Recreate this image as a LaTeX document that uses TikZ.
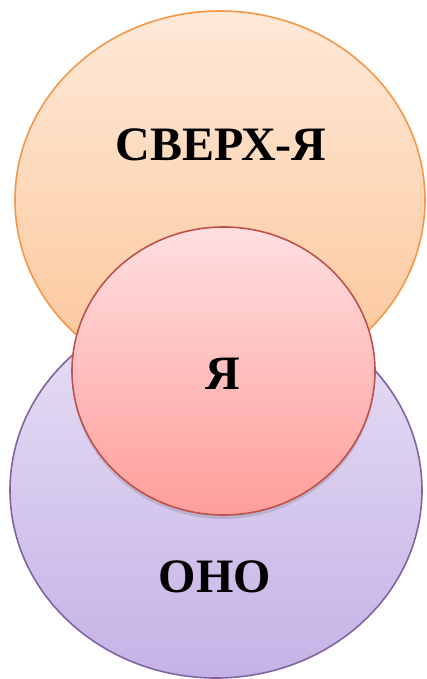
\documentclass[tikz,border=0pt]{standalone}
\usepackage{fontspec}
\setmainfont{Liberation Serif}
\usetikzlibrary{shapes.geometric,shadows}
\definecolor{orTop}{HTML}{FEE9D8}
\definecolor{orBot}{HTML}{FCC597}
\definecolor{orLine}{HTML}{F79646}
\definecolor{puTop}{HTML}{E7E1F6}
\definecolor{puBot}{HTML}{C5B2E6}
\definecolor{puLine}{HTML}{8064A2}
\definecolor{reTop}{HTML}{FFDFE1}
\definecolor{reBot}{HTML}{FF9E9A}
\definecolor{reLine}{HTML}{C0504D}
\tikzset{
  blob/.style={ellipse, inner sep=0pt, line width=1.6pt},
  lbl/.style={font=\fontsize{48}{50}\selectfont\bfseries, text=black, inner sep=0pt}
}
\begin{document}
\begin{tikzpicture}[x=1pt,y=-1pt]
\useasboundingbox (0,0) rectangle (427,679);
\node[blob, draw=orLine, top color=orTop, bottom color=orBot,
      minimum width=410pt, minimum height=378pt] (super) at (220,200) {};
\node[blob, draw=puLine, top color=puTop, bottom color=puBot,
      minimum width=412pt, minimum height=376pt] (id) at (216,490) {};
\node[blob, draw=reLine, top color=reTop, bottom color=reBot,
      drop shadow={opacity=0.3, shadow xshift=0pt, shadow yshift=-4pt},
      minimum width=303pt, minimum height=288pt] (ego) at (223.5,371) {};
\node[lbl] (tsuper) at (221,145) {СВЕРХ-Я};
\node[lbl] (tego) at (223,374) {Я};
\node[lbl] (tid) at (215,577) {ОНО};
\end{tikzpicture}
\end{document}
